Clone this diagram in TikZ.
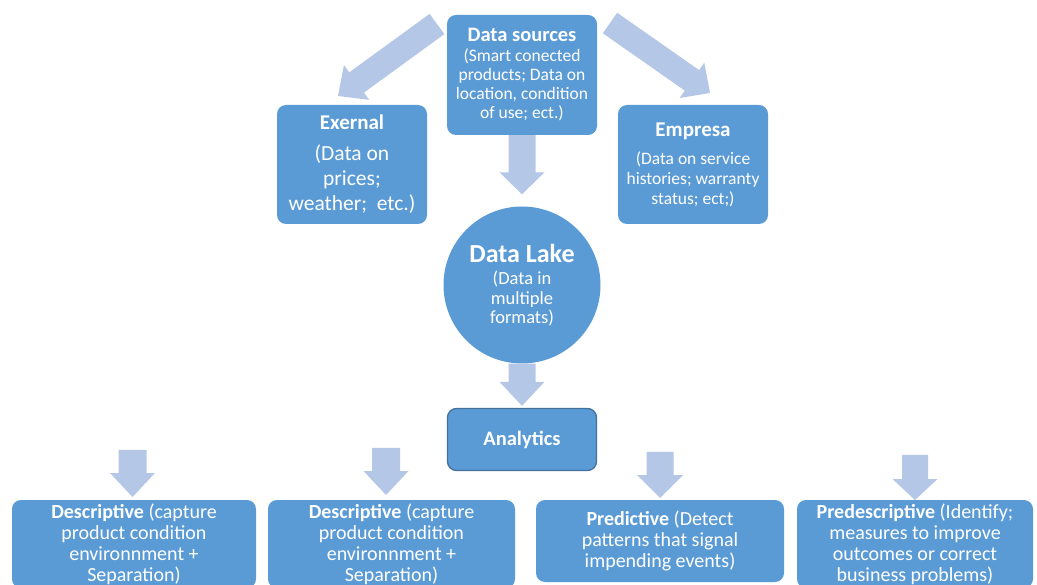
\documentclass[tikz,border=0pt]{standalone}
\usepackage{fontspec}
\setmainfont{Carlito}
\usetikzlibrary{calc}
\definecolor{boxblue}{HTML}{5B9BD5}
\definecolor{arrblue}{HTML}{B4C7E7}
\definecolor{edgeblue}{HTML}{41719C}
\newcommand{\fsz}[2]{\fontsize{#1}{#2}\selectfont}
\newcommand{\blockarr}[5]{%
  \coordinate (H) at ($(#2)!#5!(#1)$);
  \fill[arrblue] ($(#1)!#3!90:(#2)$) -- ($(H)!#3!-90:(#1)$) -- ($(H)!#4!-90:(#1)$) -- (#2)
     -- ($(H)!#4!90:(#1)$) -- ($(H)!#3!90:(#1)$) -- ($(#1)!#3!-90:(#2)$) -- cycle;}
\tikzset{
  box/.style={rectangle, rounded corners=9pt, fill=boxblue, text=white, align=center, inner sep=0pt},
}
\begin{document}
\begin{tikzpicture}[x=1pt,y=-1pt]
\useasboundingbox (0,0) rectangle (1037,585);
\clip (0,0) rectangle (1037,585);
\fill[white] (0,0) rectangle (1037,585);
% nodes
\node[box, font=\fsz{17.5}{19}, minimum width=150pt, minimum height=120pt] (src) at (522,75)
  {{\fsz{20.5}{22}\textbf{Data sources}}\\[1pt](Smart conected\\products; Data on\\location, condition\\of use; ect.)};
\node[box, font=\fsz{21.5}{25}, minimum width=150pt, minimum height=119pt] (ext) at (352,164.5)
  {{\fsz{21}{24}\textbf{Exernal}}\\[6pt](Data on\\prices;\\weather;\ \ etc.)};
\node[box, font=\fsz{17.5}{20}, minimum width=150pt, minimum height=119pt] (emp) at (693,164.5)
  {{\fsz{21}{24}\textbf{Empresa}}\\[8pt](Data on service\\histories; warranty\\status; ect;)};
\node[circle, fill=boxblue, text=white, align=center, inner sep=0pt, minimum size=157pt, font=\fsz{18.5}{19.5}] (lake) at (522,285)
  {{\fsz{26}{26}\textbf{Data Lake}}\\[3pt](Data in\\multiple\\formats)};
\node[box, draw=edgeblue, line width=1.3pt, minimum width=149pt, minimum height=62pt, font=\fsz{20.5}{24}] (ana) at (522,439.5)
  {\textbf{Analytics}};
\node[box, font=\fsz{20}{21}, minimum width=244pt, minimum height=88pt] (d1) at (134,544)
  {\textbf{Descriptive} (capture\\product condition\\environnment +\\Separation)};
\node[box, font=\fsz{20}{21}, minimum width=247pt, minimum height=88pt] (d2) at (391.5,544)
  {\textbf{Descriptive} (capture\\product condition\\environnment +\\Separation)};
\node[box, font=\fsz{20}{21}, minimum width=248pt, minimum height=82pt] (d3) at (660,541)
  {\textbf{Predictive} (Detect\\patterns that signal\\impending events)};
\node[box, font=\fsz{20}{21}, minimum width=236pt, minimum height=88pt] (d4) at (915,544)
  {\textbf{Predescriptive} (Identify;\\measures to improve\\outcomes or correct\\business problems)};
% arrow end points
\coordinate (sl0) at (437,24);   \coordinate (sl1) at (338,96);
\coordinate (sr0) at (610,23);   \coordinate (sr1) at (710,93);
\coordinate (a10) at (132.5,450); \coordinate (a11) at (132.5,497);
\coordinate (a20) at (386,448);   \coordinate (a21) at (386,495);
\coordinate (a30) at (660,452);   \coordinate (a31) at (660,498);
\coordinate (a40) at (915,455);   \coordinate (a41) at (915,500);
% block arrows
\blockarr{src.south}{$(lake.north)+(0,-12)$}{13.5pt}{22.5pt}{22pt}
\blockarr{sl0}{sl1}{12.5pt}{21.5pt}{23pt}
\blockarr{sr0}{sr1}{12.5pt}{21.5pt}{22pt}
\blockarr{$(lake.south)+(0,0)$}{$(ana.north)+(0,-2)$}{13.5pt}{22.5pt}{24pt}
\blockarr{a10}{a11}{14pt}{22.5pt}{24pt}
\blockarr{a20}{a21}{14pt}{22.5pt}{24pt}
\blockarr{a30}{a31}{13.5pt}{23pt}{23pt}
\blockarr{a40}{a41}{13pt}{22.5pt}{21pt}
\end{tikzpicture}
\end{document}
